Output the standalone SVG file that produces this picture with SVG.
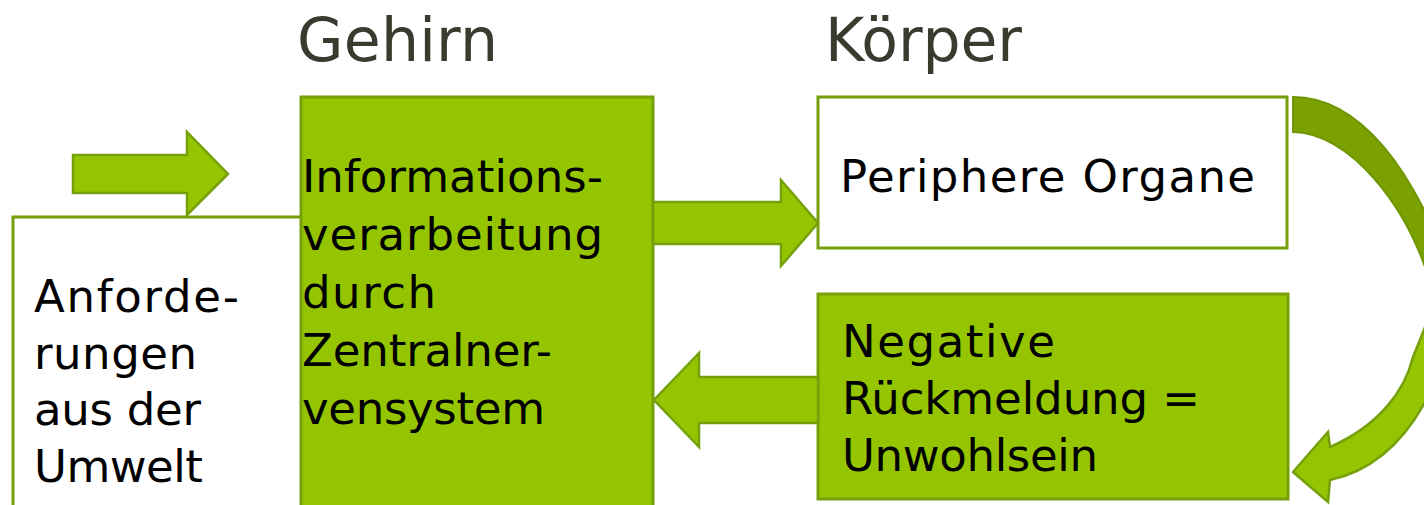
<svg xmlns="http://www.w3.org/2000/svg" width="1424" height="505" viewBox="0 0 1424 505">
  <style>
    .box-white { fill: #ffffff; stroke: #76a00b; stroke-width: 3; }
    .box-green { fill: #94c500; stroke: #76a00b; stroke-width: 3; }
    .arrow { fill: #94c500; stroke: #76a00b; stroke-width: 2.5; stroke-linejoin: miter; }
    .arc-dark { fill: #7aa100; stroke: #6f9600; stroke-width: 2; }
    .arc-light { fill: #94c500; stroke: #76a00b; stroke-width: 2.5; }
    .title { font-family: "DejaVu Sans", "Liberation Sans", sans-serif; font-size: 60px; fill: #3b3a2f; }
    .body { font-family: "DejaVu Sans", "Liberation Sans", sans-serif; font-size: 45px; fill: #000000; }
  </style>
  <rect x="0" y="0" width="1424" height="505" fill="#ffffff"/>

  <g id="title-gehirn">
    <text class="title" x="297" y="61" textLength="201" lengthAdjust="spacing">Gehirn</text>
  </g>
  <g id="title-koerper">
    <text class="title" x="825" y="61" textLength="197" lengthAdjust="spacing">Körper</text>
  </g>

  <g id="node-anforderungen">
    <rect class="box-white" x="13" y="217" width="289" height="300"/>
    <text class="body" x="34" y="312" textLength="205" lengthAdjust="spacing">Anforde-</text>
    <text class="body" x="34" y="369" textLength="163" lengthAdjust="spacing">rungen</text>
    <text class="body" x="34" y="425" textLength="167" lengthAdjust="spacing">aus der</text>
    <text class="body" x="34" y="482" textLength="169" lengthAdjust="spacing">Umwelt</text>
  </g>

  <g id="node-zns">
    <rect class="box-green" x="301" y="97" width="352" height="420"/>
    <text class="body" x="302" y="192" textLength="301" lengthAdjust="spacing">Informations-</text>
    <text class="body" x="302" y="250" textLength="301" lengthAdjust="spacing">verarbeitung</text>
    <text class="body" x="302" y="308" textLength="134" lengthAdjust="spacing">durch</text>
    <text class="body" x="302" y="366" textLength="250" lengthAdjust="spacing">Zentralner-</text>
    <text class="body" x="302" y="424" textLength="243" lengthAdjust="spacing">vensystem</text>
  </g>

  <g id="node-periphere-organe">
    <rect class="box-white" x="818" y="97" width="469" height="151"/>
    <text class="body" x="840" y="192" textLength="415" lengthAdjust="spacing">Periphere Organe</text>
  </g>

  <g id="node-negative-rueckmeldung">
    <rect class="box-green" x="818" y="294" width="470" height="205"/>
    <text class="body" x="842" y="357" textLength="213" lengthAdjust="spacing">Negative</text>
    <text class="body" x="842" y="414" textLength="358" lengthAdjust="spacing">Rückmeldung =</text>
    <text class="body" x="842" y="471" textLength="256" lengthAdjust="spacing">Unwohlsein</text>
  </g>

  <g id="connectors">
    <path class="arrow" d="M73,155 L187,155 L187,132 L228,174 L187,215 L187,193 L73,193 Z"/>
    <path class="arrow" d="M653,202 L781,202 L781,180 L818,223 L781,266 L781,244 L653,244 Z"/>
    <path class="arrow" d="M818,377 L699,377 L699,353 L654,400 L699,447 L699,423 L818,423 Z"/>
    <path class="arc-dark" d="M1293,97 C1355,97 1415,160 1460,300 L1435,300 C1410,200 1345,132 1293,132 Z"/>
    <path class="arc-light" d="M1435,300 C1430,315 1420,340 1413,357 C1405,390 1380,425 1330,447 L1328,432 L1293,472 L1328,502 L1330,480 C1385,468 1435,420 1460,300 Z"/>
  </g>
</svg>
